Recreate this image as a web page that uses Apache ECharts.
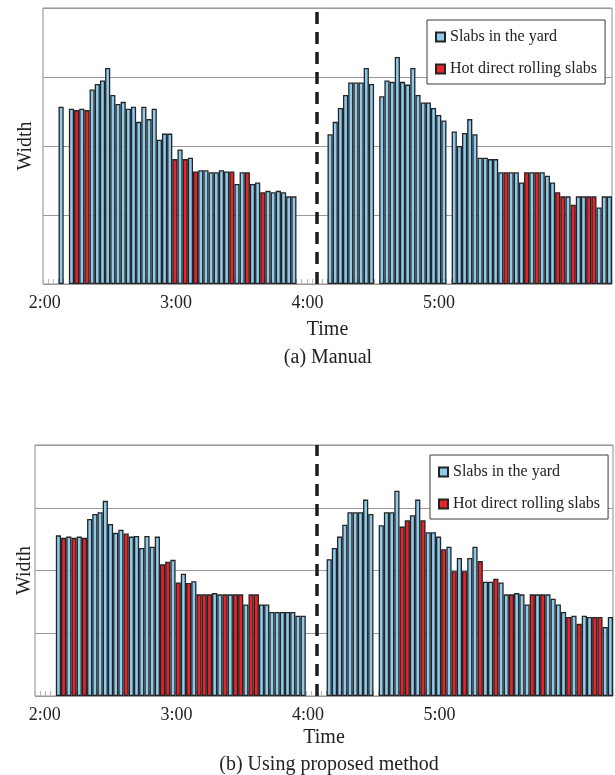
<!DOCTYPE html>
<html>
<head>
<meta charset="utf-8">
<script src="https://cdn.jsdelivr.net/npm/echarts@6/dist/echarts.min.js"></script>
<style>
  html, body { margin: 0; padding: 0; background: #fff; }
  #chart { width: 615px; height: 775px; }
</style>
</head>
<body>
<div id="chart"></div>
<script>
// slab widths per time slot (null = no slab)
// (a) manual
var widthA = [
  null, null, null, 2.57, null, 2.54, 2.52, 2.54, 2.52, 2.82,
  2.90, 2.95, 3.13, 2.74, 2.61, 2.64, 2.54, 2.57, 2.35, 2.57,
  2.39, 2.54, 2.09, 2.18, 2.18, 1.81, 1.95, 1.81, 1.83, 1.63,
  1.65, 1.65, 1.62, 1.62, 1.65, 1.63, 1.63, 1.45, 1.62, 1.62,
  1.45, 1.47, 1.33, 1.35, 1.33, 1.35, 1.33, 1.27, 1.27, null,
  null, null, null, null, null, 2.17, 2.35, 2.55, 2.74, 2.92,
  2.92, 2.92, 3.13, 2.90, null, 2.72, 2.95, 2.93, 3.29, 2.93,
  2.89, 3.13, 2.74, 2.63, 2.63, 2.55, 2.45, 2.37, null, 2.21,
  2.00, 2.19, 2.39, 2.17, 1.83, 1.83, 1.81, 1.81, 1.62, 1.62,
  1.62, 1.62, 1.47, 1.62, 1.62, 1.62, 1.62, 1.57, 1.47, 1.33,
  1.27, 1.27, 1.15, 1.27, 1.27, 1.27, 1.27, 1.11, 1.27, 1.27
]
// 1 = hot direct rolling slab, 0 = slab in the yard
var hotA = [
  0, 0, 0, 0, 0, 0, 1, 0, 1, 0,
  0, 0, 0, 0, 0, 0, 0, 0, 0, 0,
  0, 0, 0, 0, 0, 1, 0, 1, 0, 1,
  0, 0, 0, 0, 0, 0, 1, 0, 0, 1,
  0, 0, 1, 0, 0, 0, 0, 0, 0, 0,
  0, 0, 0, 0, 0, 0, 0, 0, 0, 0,
  0, 0, 0, 0, 0, 0, 0, 0, 0, 0,
  0, 0, 0, 0, 0, 0, 0, 0, 0, 0,
  0, 0, 0, 0, 0, 0, 0, 0, 0, 1,
  0, 0, 0, 1, 0, 1, 0, 0, 0, 1,
  1, 0, 1, 0, 0, 1, 1, 0, 0, 0
]

// (b) using proposed method
var widthB = [
  null, null, null, null, 2.56, 2.52, 2.54, 2.52, 2.54, 2.52,
  2.82, 2.90, 2.93, 3.11, 2.74, 2.60, 2.65, 2.59, 2.54, 2.55,
  2.36, 2.55, 2.38, 2.54, 2.10, 2.14, 2.17, 1.81, 1.95, 1.80,
  1.83, 1.62, 1.62, 1.62, 1.64, 1.62, 1.62, 1.62, 1.62, 1.62,
  1.46, 1.62, 1.62, 1.46, 1.46, 1.34, 1.34, 1.34, 1.34, 1.34,
  1.28, 1.28, null, null, null, null, 2.18, 2.36, 2.54, 2.73,
  2.93, 2.93, 2.93, 3.13, 2.90, null, 2.72, 2.93, 2.93, 3.27,
  2.70, 2.80, 2.88, 3.13, 2.80, 2.61, 2.61, 2.54, 2.34, 2.38,
  1.99, 2.20, 1.99, 2.20, 2.38, 2.15, 1.82, 1.82, 1.87, 1.81,
  1.62, 1.62, 1.64, 1.62, 1.46, 1.62, 1.62, 1.62, 1.62, 1.55,
  1.46, 1.34, 1.26, 1.28, 1.15, 1.28, 1.26, 1.26, 1.26, 1.10,
  1.26
]
var hotB = [
  0, 0, 0, 0, 0, 1, 0, 1, 0, 1,
  0, 0, 0, 0, 0, 0, 0, 1, 0, 0,
  0, 0, 0, 0, 1, 1, 0, 1, 0, 1,
  0, 1, 1, 1, 0, 0, 1, 0, 1, 1,
  0, 1, 1, 0, 0, 0, 0, 0, 0, 0,
  0, 0, 0, 0, 0, 0, 0, 0, 0, 0,
  0, 0, 0, 0, 0, 0, 0, 0, 0, 0,
  1, 1, 0, 0, 1, 0, 0, 0, 1, 0,
  1, 0, 1, 0, 0, 1, 0, 0, 1, 0,
  0, 1, 0, 0, 0, 1, 0, 1, 0, 0,
  0, 0, 1, 0, 1, 0, 0, 1, 1, 0,
  0
]

var hourTicks = [2, 3, 4, 5]
// time span covered by each panel's frame, and the dashed divider
var spanA = [1.987, 6.317]
var spanB = [1.925, 6.32]
var dividerHour = 4.07

var seriesNames = ['Slabs in the yard', 'Hot direct rolling slabs']
var yardColor = '#8ccbee'
var hotColor = '#e8232a'
var serif = 'Liberation Serif'

function split(widths, hot, wantHot) {
  return widths.map(function (w, i) {
    return (hot[i] === 1) === wantHot ? w : null
  })
}

function slotNames(widths) {
  return widths.map(function (w, i) { return String(i) })
}

var barStyle = function (color) {
  return { color: color, borderColor: '#242424', borderWidth: 1.3 }
}

function panelAxes(g, span, nameGap) {
  var slotAxis = {
    type: 'category', gridIndex: g, data: slotNames(g === 0 ? widthA : widthB),
    boundaryGap: true,
    axisLine: { show: false },
    axisTick: { show: true, inside: true, length: 5, interval: 0, lineStyle: { color: '#b5b5b5' } },
    axisLabel: { show: false }
  }
  var hourAxis = {
    type: 'value', gridIndex: g, min: span[0], max: span[1], position: 'bottom',
    axisLine: { show: false }, axisTick: { show: false }, splitLine: { show: false },
    axisLabel: {
      customValues: hourTicks, margin: 10,
      fontFamily: serif, fontSize: 18, color: '#222',
      formatter: function (v) { return v + ':00' }
    },
    name: 'Time', nameLocation: 'middle', nameGap: nameGap,
    nameTextStyle: { fontFamily: serif, fontSize: 20, color: '#222' }
  }
  return [slotAxis, hourAxis]
}

function yAxisFor(g, gap) {
  return {
    type: 'value', gridIndex: g, min: 0, max: 4, interval: 1,
    axisLine: { show: false }, axisTick: { show: false }, axisLabel: { show: false },
    splitLine: { lineStyle: { color: '#9a9a9a', width: 1 } },
    name: 'Width', nameLocation: 'middle', nameRotate: 90, nameGap: gap,
    nameTextStyle: { fontFamily: serif, fontSize: 20, color: '#222' }
  }
}

function panelSeries(g, widths, hot) {
  var xi = g * 2
  return [
    {
      name: seriesNames[0], type: 'bar', xAxisIndex: xi, yAxisIndex: g,
      data: split(widths, hot, false), barGap: '-100%', barCategoryGap: '0%',
      itemStyle: barStyle(yardColor)
    },
    {
      name: seriesNames[1], type: 'bar', xAxisIndex: xi, yAxisIndex: g,
      data: split(widths, hot, true), barGap: '-100%', barCategoryGap: '0%',
      itemStyle: barStyle(hotColor)
    },
    {
      type: 'line', xAxisIndex: xi + 1, yAxisIndex: g, data: [[dividerHour, 0]],
      symbol: 'none', silent: true, lineStyle: { opacity: 0 },
      markLine: {
        silent: true, symbol: ['none', 'none'], label: { show: false },
        lineStyle: { type: [12, 8], width: 3.5, color: '#1c1c1c' },
        data: [{ xAxis: dividerHour }]
      }
    }
  ]
}

function legendAt(left, top) {
  return {
    orient: 'vertical', left: left, top: top, data: seriesNames,
    icon: 'rect', itemWidth: 9, itemHeight: 9, itemGap: 16,
    padding: [9, 8, 7, 8],
    backgroundColor: '#fff', borderColor: '#3a3a3a', borderWidth: 1,
    textStyle: { fontFamily: serif, fontSize: 16, color: '#222' }
  }
}

var chart = echarts.init(document.getElementById('chart'), null, { renderer: 'canvas' })

var option = {
  animation: false,
  backgroundColor: '#fff',
  title: [
    { text: '(a) Manual', left: 323, top: 343, textAlign: 'center',
      textStyle: { fontFamily: serif, fontSize: 20, fontWeight: 'normal', color: '#222' } },
    { text: '(b) Using proposed method', left: 324, top: 750, textAlign: 'center',
      textStyle: { fontFamily: serif, fontSize: 20, fontWeight: 'normal', color: '#222' } }
  ],
  legend: [legendAt(427, 20), legendAt(430, 455)],
  grid: [
    { left: 43, top: 8, width: 569, height: 276, show: true, borderColor: '#8c8c8c', borderWidth: 1 },
    { left: 35, top: 445, width: 578, height: 251, show: true, borderColor: '#8c8c8c', borderWidth: 1 }
  ],
  xAxis: panelAxes(0, spanA, 36).concat(panelAxes(1, spanB, 32)),
  yAxis: [yAxisFor(0, 7), yAxisFor(1, 0)],
  series: panelSeries(0, widthA, hotA).concat(panelSeries(1, widthB, hotB))
}

chart.setOption(option)
</script>
</body>
</html>
